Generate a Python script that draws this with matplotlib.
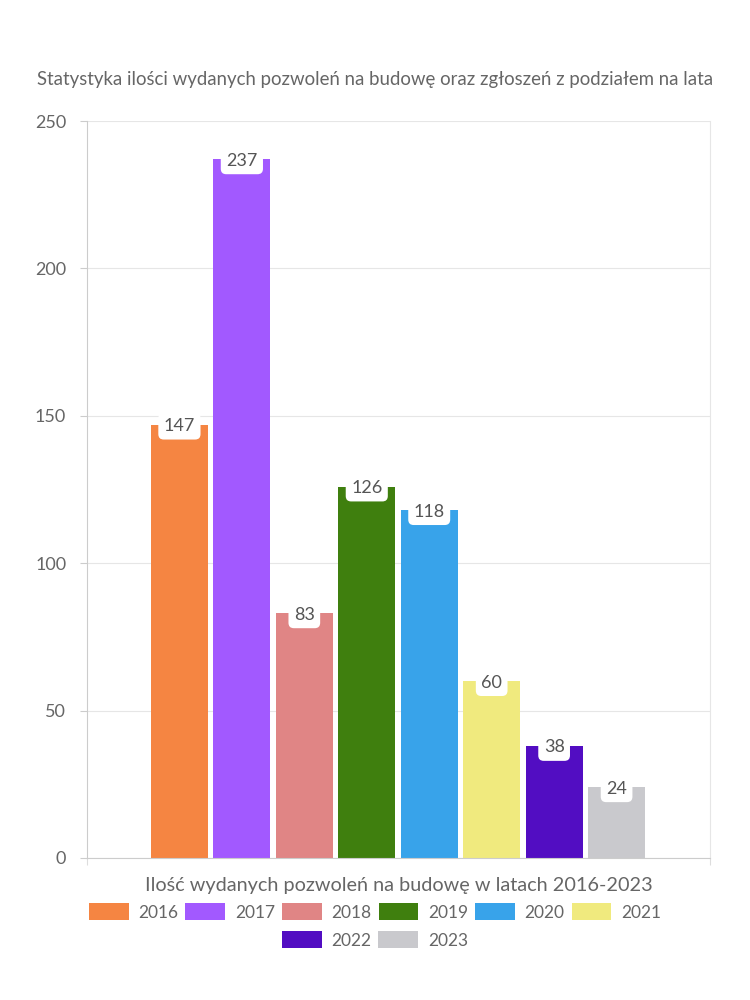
import matplotlib
matplotlib.use("Agg")
import matplotlib.pyplot as plt
from matplotlib.patches import Rectangle

years = ["2016", "2017", "2018", "2019", "2020", "2021", "2022", "2023"]
values = [147, 237, 83, 126, 118, 60, 38, 24]
colors = ["#F58542", "#A259FF", "#E08585", "#3F7F0E", "#38A3EA", "#F0EA7E", "#520DC2", "#C9C9CD"]
yticks = [0, 50, 100, 150, 200, 250]
title = "Statystyka ilości wydanych pozwoleń na budowę oraz zgłoszeń z podziałem na lata"
xlabel = "Ilość wydanych pozwoleń na budowę w latach 2016-2023"

plt.rcParams['font.family'] = ['Lato', 'DejaVu Sans']
txt = "#666666"

fig = plt.figure(figsize=(7.5, 10), dpi=100)
ax = fig.add_axes([0.116, 0.142, 0.831, 0.737])

xs = list(range(len(values)))
ax.bar(xs, values, width=0.91, color=colors, zorder=2)
for x, v in zip(xs, values):
    ax.text(x, v - 0.5, str(v), ha="center", va="center", fontsize=13, color="#555555", zorder=4,
            bbox=dict(boxstyle="round,pad=0.3,rounding_size=0.3", fc="white", ec="none"))

ax.set_xlim(-1.48, 8.50)
ax.set_ylim(0, 250)
ax.set_yticks(yticks)
ax.set_yticklabels([str(t) for t in yticks], fontsize=13, color=txt)
ax.tick_params(axis="y", length=5, color="#cccccc", pad=10)
ax.set_xticks([-1.48, 8.50])
ax.set_xticklabels(["", ""])
ax.tick_params(axis="x", length=5, color="#dddddd")
ax.grid(axis="y", color="#e6e6e6", linewidth=0.8, zorder=0)
ax.spines["top"].set_visible(False)
ax.spines["right"].set_color("#e6e6e6")
ax.spines["left"].set_color("#cccccc")
ax.spines["bottom"].set_color("#cccccc")

ax.set_xlabel(xlabel, fontsize=14.3, color=txt, labelpad=5)

fig.text(0.5, 0.92, title, ha="center", va="center", fontsize=13.4, color=txt)

handles = [Rectangle((0, 0), 1, 1, fc=c, ec="none") for c in colors]
common = dict(loc="center", frameon=False, fontsize=12.5, handlelength=2.3, handleheight=1.1,
              handletextpad=0.55, columnspacing=0.4, borderpad=0, borderaxespad=0)
leg1 = fig.legend(handles[:6], years[:6], bbox_to_anchor=(0.5, 1 - 912 / 1000), ncol=6, **common)
leg2 = fig.legend(handles[6:], years[6:], bbox_to_anchor=(0.5, 1 - 940 / 1000), ncol=2, **common)
for leg in (leg1, leg2):
    for t in leg.get_texts():
        t.set_color(txt)

fig.savefig("out.png", dpi=100)
